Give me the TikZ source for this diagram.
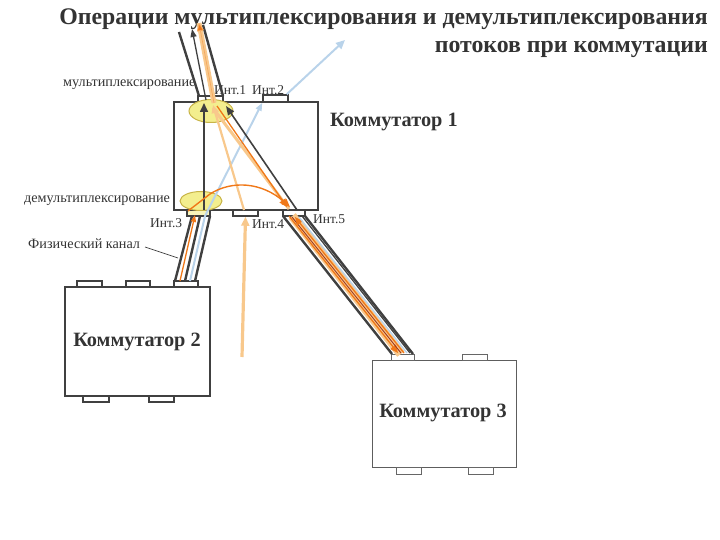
\documentclass[tikz,border=0pt]{standalone}
\usepackage{fontspec}
\setmainfont{Liberation Serif}
\usetikzlibrary{arrows.meta,calc}
\definecolor{dk}{HTML}{404040}
\definecolor{txt}{HTML}{333333}
\definecolor{paleor}{HTML}{F8C88C}
\definecolor{orng}{HTML}{F07818}
\definecolor{lblue}{HTML}{B9D3EA}
\definecolor{yfill}{HTML}{F3EE8E}
\definecolor{yline}{HTML}{C8B448}
\definecolor{dred}{HTML}{A03A20}
\tikzset{
  sw/.style={draw=dk, line width=2pt},
  port/.style={draw=dk, line width=1.5pt, fill=white, inner sep=0pt, rectangle},
  portg/.style={draw=dk!80, line width=0.9pt, fill=white, inner sep=0pt, rectangle},
  chan/.style={draw=dk, line width=2.4pt},
  thin dk/.style={draw=dk, line width=1.3pt},
  pale/.style={draw=paleor, line width=3pt},
  paleband/.style={draw=paleor, line width=9pt},
  orl/.style={draw=orng, line width=1.3pt},
  bl/.style={draw=lblue, line width=2pt},
  lab/.style={font=\fontsize{13.5}{15}\selectfont, text=txt, inner sep=0pt, anchor=base west},
  lab2/.style={font=\fontsize{14.2}{16}\selectfont, text=txt, inner sep=0pt, anchor=base west},
  big/.style={font=\fontsize{20.3}{24}\selectfont\bfseries, text=txt, inner sep=0pt},
  ttl/.style={font=\fontsize{23.8}{28}\selectfont\bfseries, text=txt, inner sep=0pt, anchor=base east}
}
\begin{document}
\begin{tikzpicture}[x=1pt,y=-1pt]
\useasboundingbox (0,0) rectangle (720,540);

% title
\node[ttl] (t1) at (708,25) {Операции мультиплексирования и демультиплексирования};
\node[ttl] (t2) at (708,53) {потоков при коммутации};

% labels
\node[lab2] (lmux) at (63,87) {мультиплексирование};
\node[lab2] (ldmx) at (24,203) {демультиплексирование};
\node[lab] (li1) at (214,95) {Инт.1};
\node[lab] (li2) at (252,95) {Инт.2};
\node[lab] (li3) at (150,227) {Инт.3};
\node[lab] (li4) at (252,229) {Инт.4};
\node[lab] (li5) at (313,223) {Инт.5};
\node[lab2] (lphy) at (28,248) {Физический канал};
\coordinate (lead1) at (145,247);
\coordinate (lead2) at (178,258);
\draw[dk, line width=0.7pt] (lead1) -- (lead2);

% switch boxes
\node[sw, minimum width=144pt, minimum height=108pt, inner sep=0pt] (k1) at (246,156) {};
\node[sw, minimum width=145pt, minimum height=109pt, inner sep=0pt] (k2) at (137.5,341.5) {};
\node[draw=dk!85, line width=1pt, minimum width=144pt, minimum height=107pt, inner sep=0pt] (k3) at (444,413.5) {};
\node[big, anchor=base west] (k1t) at (330,127) {Коммутатор 1};
\node[big] (k2t) at (137,342) {Коммутатор 2};
\node[big] (k3t) at (443,413) {Коммутатор 3};

% ports
\node[port, minimum width=25pt, minimum height=6pt] (p1) at (210.5,99) {};
\node[port, minimum width=25pt, minimum height=7pt] (p2) at (275.5,98.5) {};
\node[port, minimum width=23pt, minimum height=6pt, fill=yfill!60] (p3) at (198.5,213) {};
\node[port, minimum width=25pt, minimum height=6pt] (p4) at (245.5,213) {};
\node[port, minimum width=22pt, minimum height=6pt] (p5) at (294,213) {};
\node[port, minimum width=25pt, minimum height=6pt] (q1) at (89.5,284) {};
\node[port, minimum width=24pt, minimum height=6pt] (q2) at (138,284) {};
\node[port, minimum width=24pt, minimum height=6pt] (q3) at (186,284) {};
\node[port, minimum width=26pt, minimum height=6pt] (q4) at (96,399) {};
\node[port, minimum width=25pt, minimum height=6pt] (q5) at (161.5,399) {};
\node[portg, minimum width=23pt, minimum height=6pt] (r1) at (402.5,357) {};
\node[portg, minimum width=25pt, minimum height=6pt] (r2) at (474.5,357) {};
\node[portg, minimum width=25pt, minimum height=7pt] (r3) at (408.5,470.5) {};
\node[portg, minimum width=25pt, minimum height=7pt] (r4) at (480.5,470.5) {};

% ellipses
\draw[draw=yline, line width=1pt, fill=yfill] (211,111) ellipse [x radius=22, y radius=11.5];
\draw[draw=yline, line width=1pt, fill=yfill] (201,201) ellipse [x radius=21, y radius=9.5];

% ---- top channel (Инт.1 upward)
\coordinate (ta1) at (199,96); \coordinate (tb1) at (179,32);
\coordinate (ta2) at (223,96); \coordinate (tb2) at (203,25);
\coordinate (ta3) at (206,100); \coordinate (tb3) at (192,29);
\coordinate (ta4) at (214,103); \coordinate (tb4) at (199,23);
\draw[chan] (ta1) -- (tb1);
\draw[chan] (ta2) -- (tb2);
\draw[pale, line width=5pt] (ta4) -- (tb4);
\draw[draw=paleor!60!orng, line width=0.7pt, -{Triangle[length=8pt,width=7pt,fill=orng]}] (ta4) -- (tb4);
\draw[thin dk, -{Triangle[length=8pt,width=6pt]}] (ta3) -- (tb3);

% ---- bottom channel (Инт.3 to Коммутатор 2)
\coordinate (ba1) at (192,216); \coordinate (bb1) at (175,281);
\coordinate (ba2) at (200,216); \coordinate (bb2) at (185,281);
\coordinate (ba3) at (210,216); \coordinate (bb3) at (195,281);
\coordinate (ba4) at (195,215); \coordinate (bb4) at (180,281);
\coordinate (ba5) at (205,216); \coordinate (bb5) at (190,281);
\draw[chan] (ba1) -- (bb1);
\draw[chan] (ba2) -- (bb2);
\draw[chan] (ba3) -- (bb3);
\draw[orl, -{Triangle[length=7pt,width=5pt]}] (bb4) -- (ba4);
\draw[bl, -{Triangle[length=8pt,width=6pt]}] (bb5) -- (ba5) -- (p2.south west);

% ---- right channel (Инт.5 to Коммутатор 3)
\coordinate (ra1) at (283,216); \coordinate (rb1) at (392,354);
\coordinate (ra2) at (305,216); \coordinate (rb2) at (413,354);
\draw[paleband] ($(ra1)!0.42!(ra2)$) -- ($(rb1)!0.42!(rb2)$);
\coordinate (rc1) at (289,216); \coordinate (rd1) at (398,353);
\coordinate (rc2) at (292,217); \coordinate (rd2) at (401,353);
\coordinate (rc3) at (295,217); \coordinate (rd3) at (404,353);
\coordinate (rc4) at (299,217); \coordinate (rd4) at (407,353);
\coordinate (rc5) at (302,216); \coordinate (rd5) at (410,353);
\draw[orl, -{Triangle[length=8pt,width=7pt]}] (rc1) -- (rd1);
\draw[draw=dred, line width=0.9pt] (rc2) -- (rd2);
\draw[orl, -{Triangle[length=8pt,width=7pt]}] (rd3) -- (rc3);
\draw[bl, line width=1.4pt] (rc4) -- (rd4);
\draw[thin dk] (rc5) -- (rd5);
\draw[chan] (ra1) -- (rb1);
\draw[chan] (ra2) -- (rb2);

% ---- inside Коммутатор 1
\draw[paleor, line width=2.2pt, -{Triangle[length=8pt,width=7pt]}] (244,210) -- (213,105);
\draw[pale] (213,108) -- (289,209);
\draw[orl, -{Triangle[length=8pt,width=7pt]}] (217,106) -- (287,207);
\draw[thin dk, line width=1.6pt, -{Triangle[length=9pt,width=7pt]}] (297,210) -- (226,106);
\draw[thin dk, line width=1.6pt, -{Triangle[length=9pt,width=8pt]}] (204,210) -- (204,103);
\draw[orng, line width=1.4pt, -{Triangle[length=8pt,width=7pt]}] (188,211) -- (210,194) .. controls (232,180) and (262,182) .. (290,207);

% ---- external arrows
\coordinate (va) at (242,357);
\draw[paleor, line width=3.2pt, -{Triangle[length=9pt,width=8pt]}] (va) -- (p4.south);
\coordinate (bt) at (345,40);
\draw[bl, -{Triangle[length=9pt,width=8pt]}] ($(p2.north east)+(-2,0)$) -- (bt);
\end{tikzpicture}
\end{document}
